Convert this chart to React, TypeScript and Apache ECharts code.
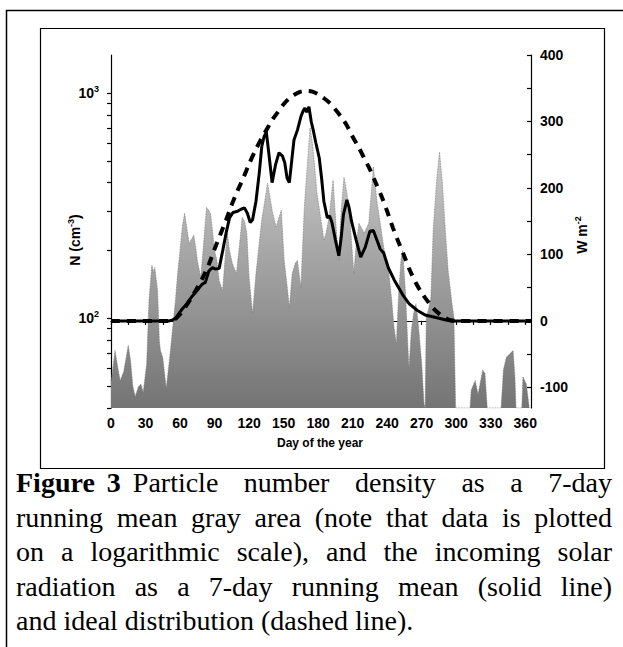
import React, { useEffect, useRef } from "react";
import * as echarts from "echarts";

// ---------- axes ----------
const DAY_MAX = 365;
const X_LABELS = [0, 30, 60, 90, 120, 150, 180, 210, 240, 270, 300, 330, 360];
const X_TICKS = [0, 15, 30, 45, 60, 75, 90, 105, 120, 135, 150, 165, 180, 195, 210, 225, 240, 255, 270, 285, 300, 315, 330, 345, 360];
const N_MIN = 40;
const N_MAX = 1475;
const N_TICKS = [40, 50, 60, 70, 80, 90, 100, 200, 300, 400, 500, 600, 700, 800, 900, 1000];
const W_MIN = -131;
const W_MAX = 400;
const W_LABELS = [-100, 0, 100, 200, 300, 400];
const W_TICKS = [-100, -50, 0, 50, 100, 150, 200, 250, 300, 350, 400];

// ---------- particle number density (7-day running mean, cm^-3) ----------
const GRAY_DAYS = [0, 2, 3.5, 6, 8, 11, 15, 17, 19, 21, 24, 26, 28, 31, 33, 35.5, 37, 38, 40.5, 42, 43, 45, 48, 51, 54, 56, 58, 60, 62, 64, 66, 68, 70, 72, 74, 75, 78, 80, 83, 85, 86.5, 88, 90, 92, 94, 97, 99, 101, 103, 105.5, 109, 112, 114, 116, 118, 120, 123, 126, 129, 131, 134, 136, 138, 140, 143.5, 146, 148, 150.5, 153, 155, 157.5, 160, 162, 165, 168, 170.5, 173, 175, 176.5, 179, 182.5, 185, 187, 189.5, 193, 196, 198, 200, 202.5, 205, 207, 209, 211, 213, 215.5, 218, 220, 224, 226, 228, 231, 234.5, 237, 241.5, 244, 246, 248, 250, 252, 253.5, 256, 258, 259, 261, 263, 265, 267, 270, 272, 273, 274, 276, 278, 280, 283, 285.5, 288, 290.5, 293, 296, 298, 299.5, 312, 313, 316.5, 319, 321, 323, 325, 327, 339, 341, 343.5, 347, 349.5, 351, 352, 357, 358, 361, 363.5, 365];
const GRAY_N = [52, 62, 72, 60, 53, 58, 76, 65, 50, 45, 50, 51, 47, 63, 120, 172, 160, 168, 133, 80, 72, 67, 49, 67, 95, 120, 160, 200, 255, 293, 250, 215, 225, 234, 200, 181, 152, 200, 311, 300, 293, 250, 200, 181, 147, 133, 180, 239, 200, 175, 158, 220, 281, 270, 239, 152, 105, 158, 220, 273, 340, 398, 350, 302, 254, 280, 302, 181, 140, 112, 158, 175, 181, 137, 311, 469, 700, 600, 503, 359, 273, 222, 240, 281, 410, 239, 181, 300, 423, 360, 302, 220, 158, 210, 264, 250, 239, 264, 350, 469, 334, 254, 207, 158, 120, 91, 77, 130, 181, 200, 129, 75, 60, 88, 105, 116, 95, 63, 42, 40, 101, 110, 124, 246, 410, 547, 398, 246, 163, 120, 101, 40, 40, 48, 53, 46, 52, 59, 57, 40, 40, 59, 67, 70, 72, 55, 40, 40, 55, 51, 40, 40];

// ---------- solar radiation, 7-day running mean (W m^-2) ----------
const SOLID_DAYS = [0, 50, 53, 56, 61, 66, 70, 75, 79, 82, 85, 88, 91, 94, 97, 100, 103, 106, 110, 113, 116, 118.5, 121, 123, 126, 129, 131, 133, 135, 137.5, 140, 143, 146, 149, 151, 153, 155, 157, 159, 162, 165, 167, 168.5, 170, 172, 174, 176, 178, 181, 183, 185, 188, 190, 192, 195, 198, 200, 202, 205, 207, 209, 213, 217, 221, 225, 228, 231, 234, 237, 241, 246, 250, 254, 259, 266, 273, 285, 292, 296, 365];
const SOLID_W = [0, 0, 1, 4, 16, 26, 36, 46, 55, 58, 75, 80, 78, 79, 105, 132, 155, 163, 165, 168, 170, 162, 148, 152, 180, 225, 262, 277, 284, 247, 208, 235, 253, 248, 238, 215, 208, 240, 272, 287, 307, 316, 320, 314, 322, 300, 285, 268, 245, 215, 180, 155, 158, 148, 122, 98, 125, 160, 182, 170, 150, 122, 96, 111, 135, 136, 122, 108, 102, 80, 62, 50, 38, 26, 16, 9, 4, 1, 0, 0];

// ---------- ideal distribution (W m^-2) ----------
const DASH_DAYS = [0, 50, 55, 60, 65, 70, 75, 80, 85, 90, 95, 100, 105, 110, 115, 120, 125, 130, 135, 140, 145, 150, 155, 160, 165, 170, 175, 180, 185, 190, 195, 200, 205, 210, 215, 220, 225, 230, 235, 240, 245, 250, 255, 260, 265, 270, 275, 280, 285, 290, 295, 300, 365];
const DASH_W = [0, 0, 2, 10, 22, 35, 50, 66, 85, 108, 130, 152, 175, 196, 215, 236, 255, 272, 287, 302, 314, 326, 335, 341, 345, 346, 345, 341, 335, 328, 318, 307, 294, 277, 262, 245, 228, 208, 188, 165, 140, 118, 97, 75, 57, 42, 30, 19, 11, 5, 1, 0, 0];

// ---------- texts ----------
const X_NAME = "Day of the year";
const CAPTION_LINES = [
  "Figure 3 Particle number density as a 7-day",
  "running mean gray area (note that data is plotted",
  "on a logarithmic scale), and the incoming solar",
  "radiation as a 7-day running mean (solid line)",
  "and ideal distribution (dashed line).",
];
const CAPTION_BOLD_WORDS = 2; // "Figure 3"

const SANS = "Liberation Sans";
const SERIF = "Liberation Serif";

function measure(text: string, font: string): number {
  const c = document.createElement("canvas").getContext("2d");
  if (!c) return text.length * 12;
  c.font = font;
  return c.measureText(text).width;
}

function captionGraphics(): any[] {
  const size = 28;
  const left = 16;
  const right = 612;
  const fixedGap = 12;
  const baselines = [492, 526.5, 561, 595.5, 630];
  const out: any[] = [];
  CAPTION_LINES.forEach((line, li) => {
    const words = line.split(" ");
    const fonts = words.map((_, wi) =>
      (li === 0 && wi < CAPTION_BOLD_WORDS ? "bold " : "") + size + 'px "' + SERIF + '"'
    );
    const widths = words.map((w, wi) => measure(w, fonts[wi]));
    const total = widths.reduce((a, b) => a + b, 0);
    const last = li === CAPTION_LINES.length - 1;
    // on the first line the label "Figure 3" keeps its own small gaps
    const fixedCount = li === 0 ? CAPTION_BOLD_WORDS : 0;
    const freeGaps = words.length - 1 - fixedCount;
    const gap = last
      ? measure(" ", fonts[0])
      : (right - left - total - fixedCount * fixedGap) / freeGaps;
    let x = left;
    words.forEach((w, wi) => {
      out.push({
        type: "text",
        x,
        y: baselines[li] - 0.3375 * size,
        silent: true,
        style: {
          text: w,
          font: fonts[wi],
          fill: "#000",
          align: "left",
          verticalAlign: "middle",
        },
      });
      x += widths[wi] + (wi < fixedCount ? fixedGap : gap);
    });
  });
  return out;
}

const axisLineStyle = { color: "#000", width: 1.2 };
const labelBase = { fontFamily: SANS, fontWeight: "bold" as const, fontSize: 14, color: "#000" };

export default function App() {
  const ref = useRef<HTMLDivElement>(null);

  useEffect(() => {
    document.body.style.margin = "0";
    const el = ref.current!;
    const chart = echarts.init(el, null, { renderer: "svg" });

    const supRich = {
      b: { fontFamily: SANS, fontWeight: "bold", fontSize: 14, lineHeight: 18, color: "#000" },
      s: { fontFamily: SANS, fontWeight: "bold", fontSize: 9, lineHeight: 6, verticalAlign: "top", color: "#000" },
    };

    const option: any = {
      animation: false,
      grid: { left: 111, right: 92, top: 55, bottom: 239, containLabel: false },
      xAxis: {
        type: "value",
        min: 0,
        max: DAY_MAX,
        axisLine: { show: true, lineStyle: axisLineStyle },
        axisTick: { show: true, length: 4, customValues: X_TICKS, lineStyle: axisLineStyle },
        axisLabel: { ...labelBase, customValues: X_LABELS, margin: 8 },
        splitLine: { show: false },
      },
      yAxis: [
        {
          type: "log",
          logBase: 10,
          min: N_MIN,
          max: N_MAX,
          position: "left",
          axisLine: { show: true, lineStyle: axisLineStyle },
          axisTick: { show: false },
          axisLabel: {
            margin: 12,
            rich: supRich,
            formatter: (v: number) => {
              if (Math.abs(v - 100) < 1e-6) return "{b|10}{s|2}";
              if (Math.abs(v - 1000) < 1e-6) return "{b|10}{s|3}";
              return "";
            },
          },
          splitLine: { show: false },
        },
        {
          type: "value",
          min: W_MIN,
          max: W_MAX,
          position: "right",
          axisLine: { show: true, lineStyle: axisLineStyle },
          axisTick: { show: true, inside: true, length: 4, customValues: W_TICKS, lineStyle: axisLineStyle },
          axisLabel: { ...labelBase, customValues: W_LABELS, margin: 9 },
          splitLine: { show: false },
        },
        {
          type: "value",
          min: Math.log10(N_MIN),
          max: Math.log10(N_MAX),
          position: "left",
          axisLine: { show: false },
          axisTick: { show: true, length: 4, customValues: N_TICKS.map((v) => Math.log10(v)), lineStyle: axisLineStyle },
          axisLabel: { show: false },
          splitLine: { show: false },
        },
      ],
      series: [
        {
          name: "N",
          type: "line",
          yAxisIndex: 0,
          data: GRAY_DAYS.map((d, i) => [d, GRAY_N[i]]),
          symbol: "none",
          clip: true,
          lineStyle: { width: 0.8, color: "#7a7a7a", type: "dotted" },
          areaStyle: {
            origin: "start",
            opacity: 1,
            color: new echarts.graphic.LinearGradient(0, 0, 0, 1, [
              { offset: 0, color: "#d2d2d2" },
              { offset: 0.45, color: "#a6a6a6" },
              { offset: 1, color: "#747474" },
            ]),
          },
          z: 1,
        },
        {
          name: "Solar radiation (7-day mean)",
          type: "line",
          yAxisIndex: 1,
          data: SOLID_DAYS.map((d, i) => [d, SOLID_W[i]]),
          symbol: "none",
          lineStyle: { width: 3, color: "#000" },
          z: 3,
        },
        {
          name: "Ideal distribution",
          type: "line",
          yAxisIndex: 1,
          data: DASH_DAYS.map((d, i) => [d, DASH_W[i]]),
          symbol: "none",
          smooth: 0.3,
          lineStyle: { width: 4, color: "#000", type: [9, 7] },
          z: 4,
        },
      ],
      graphic: [
        {
          type: "polyline",
          silent: true,
          shape: { points: [[6.5, 647], [6.5, 10.5], [623, 10.5]] },
          style: { stroke: "#000", lineWidth: 1.5, fill: null },
        },
        {
          type: "rect",
          silent: true,
          shape: { x: 40.5, y: 28.5, width: 564, height: 440 },
          style: { stroke: "#000", lineWidth: 1.2, fill: null },
        },
        {
          type: "text",
          x: 320,
          y: 443,
          silent: true,
          style: { text: X_NAME, font: 'bold 12px "' + SANS + '"', fill: "#000", align: "center", verticalAlign: "middle" },
        },
        {
          type: "text",
          x: 75,
          y: 240,
          rotation: Math.PI / 2,
          silent: true,
          style: {
            text: "N (cm{s|-3})",
            font: 'bold 14px "' + SANS + '"',
            fill: "#000",
            align: "center",
            verticalAlign: "middle",
            lineHeight: 18,
            rich: { s: { fontFamily: SANS, fontWeight: "bold", fontSize: 9, lineHeight: 6, verticalAlign: "top", fill: "#000" } },
          },
        },
        {
          type: "text",
          x: 582,
          y: 235,
          rotation: Math.PI / 2,
          silent: true,
          style: {
            text: "W m{s|-2}",
            font: 'bold 14px "' + SANS + '"',
            fill: "#000",
            align: "center",
            verticalAlign: "middle",
            lineHeight: 18,
            rich: { s: { fontFamily: SANS, fontWeight: "bold", fontSize: 9, lineHeight: 6, verticalAlign: "top", fill: "#000" } },
          },
        },
        ...captionGraphics(),
      ],
    };

    chart.setOption(option);
    return () => chart.dispose();
  }, []);

  return <div ref={ref} style={{ width: 623, height: 647 }} />;
}
